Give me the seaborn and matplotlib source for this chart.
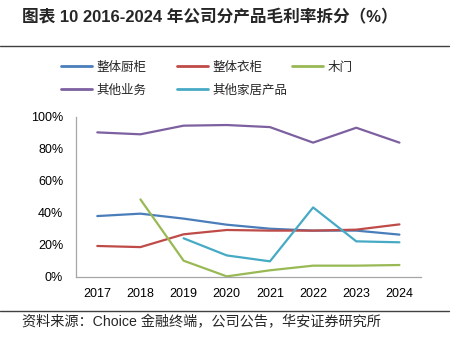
import numpy as np
import pandas as pd
import seaborn as sns
import matplotlib.pyplot as plt
from matplotlib.lines import Line2D
from matplotlib.ticker import FuncFormatter

# ---- data ----
years = ['2017', '2018', '2019', '2020', '2021', '2022', '2023', '2024']
kitchen = [37.9, 39.4, 36.3, 32.5, 30.0, 28.8, 28.8, 26.3]
wardrobe = [19.2, 18.5, 26.5, 29.2, 28.8, 28.8, 29.4, 32.7]
door = [np.nan, 48.3, 10.0, 0.2, 4.0, 6.9, 6.9, 7.3]
other_biz = [90.2, 89.0, 94.4, 94.8, 93.5, 83.8, 93.1, 83.8]
other_home = [np.nan, np.nan, 24.0, 13.3, 9.6, 43.3, 22.1, 21.5]
series_names = ['整体厨柜', '整体衣柜', '木门', '其他业务', '其他家居产品']
colors = ['#4A7EBB', '#BE4B48', '#98B954', '#7D60A0', '#46AAC5']
yticks = [0, 20, 40, 60, 80, 100]

title = '图表 10 2016-2024 年公司分产品毛利率拆分（%）'
source = '资料来源：Choice 金融终端，公司公告，华安证券研究所'

# ---- long table ----
rows = []
for name, vals in zip(series_names, [kitchen, wardrobe, door, other_biz, other_home]):
    for y, v in zip(years, vals):
        rows.append({'year': y, 'value': v, 'series': name})
df = pd.DataFrame(rows).dropna()

sns.set_style('white')
plt.rcParams['font.family'] = ['Liberation Sans', 'Noto Sans CJK SC', 'DejaVu Sans']

W, H = 460, 343
fig = plt.figure(figsize=(W / 100, H / 100), dpi=100)
fig.patch.set_facecolor('white')

def fx(px):
    return px / W

def fy(py):
    return 1 - py / H

ax_l, ax_r, ax_t, ax_b = 75.7, 421.0, 116.7, 276.7
ax = fig.add_axes([fx(ax_l), fy(ax_b), fx(ax_r - ax_l), (ax_b - ax_t) / H])

palette = dict(zip(series_names, colors))
sns.lineplot(data=df, x='year', y='value', hue='series', hue_order=series_names,
             palette=palette, linewidth=1.6, legend=False, sort=False, ax=ax)

ax.set_xlim(-0.5, len(years) - 0.5)
ax.set_ylim(0, 100)
ax.set_yticks(yticks)
ax.yaxis.set_major_formatter(FuncFormatter(lambda v, p: f'{v:.0f}%'))
ax.set_xlabel('')
ax.set_ylabel('')
ax.tick_params(axis='both', length=0, labelsize=9, colors='#000000')
ax.tick_params(axis='y', pad=9)
ax.tick_params(axis='x', pad=8)
for s in ['top', 'right']:
    ax.spines[s].set_visible(False)
for s in ['left', 'bottom']:
    ax.spines[s].set_color('#A6A6A6')
    ax.spines[s].set_linewidth(0.9)
ax.set_facecolor('white')

# ---- legend: one legend per entry, Excel-like grid ----
leg_pos = [(60.7, 67), (176.7, 67), (292, 67), (60.7, 90), (176.7, 90)]
for name, c, (lx, ly) in zip(series_names, colors, leg_pos):
    h = Line2D([], [], color=c, linewidth=2.0)
    fig.legend(handles=[h], labels=[name], loc='center left',
               bbox_to_anchor=(fx(lx), fy(ly)), frameon=False,
               borderpad=0, borderaxespad=0, handlelength=2.5,
               handletextpad=0.35,
               prop={'family': ['Noto Sans CJK SC'], 'size': 9})

# ---- title, rules, source ----
fig.text(fx(22), fy(17), title, ha='left', va='center', fontsize=12,
         fontweight='bold', family=['Liberation Sans', 'Noto Sans CJK SC'])
fig.add_artist(Line2D([0, fx(449)], [fy(46), fy(46)], color='#404040', linewidth=1.0))
fig.add_artist(Line2D([0, fx(449)], [fy(311), fy(311)], color='#404040', linewidth=1.0))
fig.text(fx(22), fy(322), source, ha='left', va='center', fontsize=10.2,
         family=['Liberation Sans', 'Noto Sans CJK SC'])

fig.savefig('out.png', dpi=100, facecolor='white')
